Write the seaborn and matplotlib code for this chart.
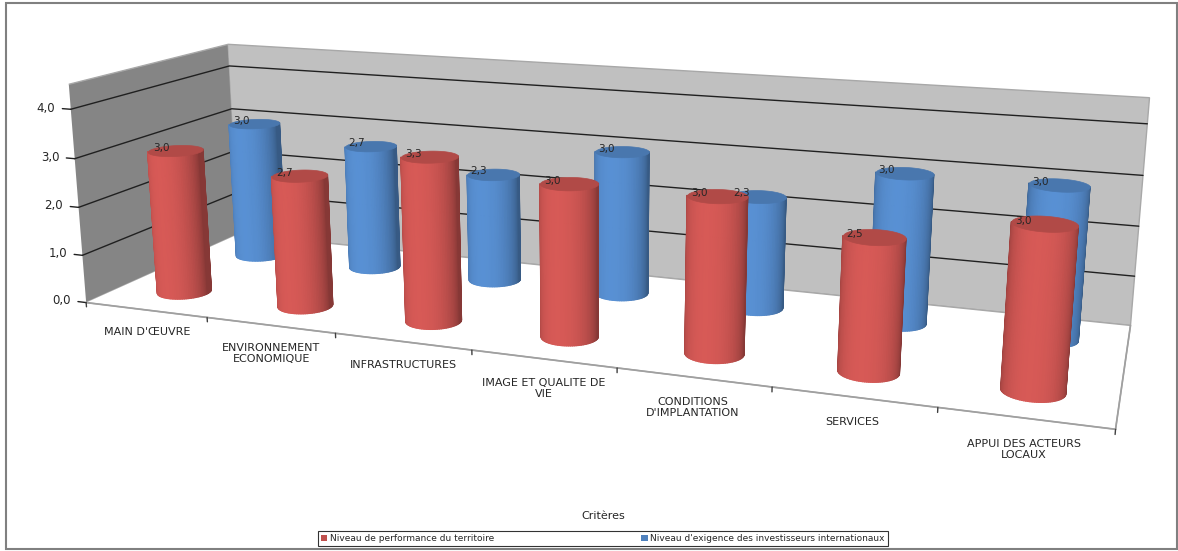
import numpy as np
import pandas as pd
import seaborn as sns
import matplotlib
matplotlib.use("Agg")
import matplotlib.pyplot as plt
from matplotlib.patches import Patch, Rectangle
from mpl_toolkits.mplot3d import proj3d
from mpl_toolkits.mplot3d.art3d import Poly3DCollection

# ---- data ----
criteres = ["MAIN D'ŒUVRE", "ENVIRONNEMENT\nECONOMIQUE", "INFRASTRUCTURES",
            "IMAGE ET QUALITE DE\nVIE", "CONDITIONS\nD'IMPLANTATION", "SERVICES",
            "APPUI DES ACTEURS\nLOCAUX"]
performance = [3.0, 2.7, 3.3, 3.0, 3.0, 2.5, 3.0]
exigence = [3.0, 2.7, 2.3, 3.0, 2.3, 3.0, 3.0]
series_names = ["Niveau de performance du territoire",
                "Niveau d'exigence des investisseurs internationaux"]
value_ticks = [0, 1, 2, 3, 4]
axis_title = "Critères"


def fr(v):
    return f"{v:.1f}".replace(".", ",")


sns.set_theme(style="white")
plt.rcParams["font.family"] = ["DejaVu Sans"]
palette = sns.color_palette(["#C0504D", "#4F81BD"])

df = pd.DataFrame({
    "critere": criteres * 2,
    "serie": [series_names[0]] * len(criteres) + [series_names[1]] * len(criteres),
    "valeur": performance + exigence,
})
df["xpos"] = list(range(len(criteres))) * 2
df["ypos"] = [0] * len(criteres) + [1] * len(criteres)

fig = plt.figure(figsize=(11.78, 5.51), dpi=100)
ax = fig.add_axes([0.001, 0.1775, 1.0, 0.88], projection="3d", computed_zorder=False)

AZIM, ELEV, FOCAL = -70, 14, 0.62
ax.view_init(elev=ELEV, azim=AZIM)
ax.set_proj_type("persp", focal_length=FOCAL)

XLIM = (-0.5, len(criteres) - 0.5)
YLIM = (-0.45, 1.45)
ZLIM = (0, 4.5)
ax.set_xlim(*XLIM)
ax.set_ylim(*YLIM)
ax.set_zlim(*ZLIM)
BOX = np.array([4.1, 1.17, 0.92])
ZOOM = 2.18
ax.set_box_aspect(tuple(BOX), zoom=ZOOM)

# walls and floor
ax.xaxis.set_pane_color("#858585")
ax.yaxis.set_pane_color("#C0C0C0")
ax.zaxis.set_pane_color("#FFFFFF")
for a in (ax.xaxis, ax.yaxis, ax.zaxis):
    a.pane.set_edgecolor("#A8A8A8")
    a.line.set_color("#A0A0A0")
ax.zaxis.line.set_color((0, 0, 0, 0))
ax.grid(False)
ax.set_xticks([])
ax.set_yticks([])
ax.set_zticks([])

# value gridlines on the left and back walls, with short ticks on the front edge
for z in value_ticks:
    if z > 0:
        ln, = ax.plot([XLIM[0], XLIM[0], XLIM[1]], [YLIM[0], YLIM[1], YLIM[1]], [z, z, z],
                      color="#202020", lw=1.0, zorder=1)
        ln.set_clip_on(False)
    tk, = ax.plot([XLIM[0] - 0.07, XLIM[0]], [YLIM[0], YLIM[0]], [z, z],
                  color="#202020", lw=1.0, zorder=1)
    tk.set_clip_on(False)

# category boundary ticks under the front edge
for b in np.arange(XLIM[0], XLIM[1] + 0.01, 1.0):
    tk, = ax.plot([b, b], [YLIM[0], YLIM[0]], [0, -0.09], color="#404040", lw=1.0, zorder=1)
    tk.set_clip_on(False)

# world-space geometry (same scaling as the axes box)
span = np.array([XLIM[1] - XLIM[0], YLIM[1] - YLIM[0], ZLIM[1] - ZLIM[0]])
box_world = BOX * 1.8294640721620434 * ZOOM / np.linalg.norm(BOX)
scale = box_world / span
a_r, e_r = np.radians(AZIM), np.radians(ELEV)
ps = np.array([np.cos(e_r) * np.cos(a_r), np.cos(e_r) * np.sin(a_r), np.sin(e_r)])
eye = 0.5 * box_world + 10 * FOCAL * ps

RX = 0.19
RW = RX * scale[0]
RY = RW / scale[1]

cam = ps[:2] / np.linalg.norm(ps[:2])
left = np.array([np.sin(a_r), -np.cos(a_r)])
light = cam + 0.4 * left
light /= np.linalg.norm(light)


def shade(rgb, s):
    return tuple(np.clip(np.array(rgb) * s, 0, 1))


def cylinder(xc, yc, h, rgb, n=96):
    th = np.linspace(0, 2 * np.pi, n + 1)
    xs = xc + RX * np.cos(th)
    ys = yc + RY * np.sin(th)
    polys, cols = [], []
    for k in range(n):
        m = 0.5 * (th[k] + th[k + 1])
        nrm = np.array([np.cos(m), np.sin(m)])
        pw = np.array([(0.5 * (xs[k] + xs[k + 1]) - XLIM[0]) * scale[0],
                       (0.5 * (ys[k] + ys[k + 1]) - YLIM[0]) * scale[1]])
        if np.dot(nrm, eye[:2] - pw) <= 0:
            continue
        polys.append([(xs[k], ys[k], 0), (xs[k + 1], ys[k + 1], 0),
                      (xs[k + 1], ys[k + 1], h), (xs[k], ys[k], h)])
        s = np.dot(nrm, light)
        cols.append(shade(rgb, 0.70 + 0.42 * max(s, 0) ** 0.8))
    side = Poly3DCollection(polys, facecolors=cols, edgecolors=cols, linewidths=1.0)
    topc = shade(rgb, 0.92)
    top = Poly3DCollection([list(zip(xs[:-1], ys[:-1], np.full(n, h)))],
                           facecolors=[topc], edgecolors=[topc], linewidths=0.5)
    for c in (side, top):
        c.set_clip_on(False)
    return side, top


for _, row in df.iterrows():
    rgb = palette[row.ypos]
    cw = np.array([(row.xpos - XLIM[0]) * scale[0], (row.ypos - YLIM[0]) * scale[1]])
    dist = np.linalg.norm(eye[:2] - cw)
    side, top = cylinder(row.xpos, row.ypos, row.valeur, rgb)
    side.set_zorder(20 - dist)
    top.set_zorder(20 - dist + 0.001)
    ax.add_collection3d(side)
    ax.add_collection3d(top)

# fix the layout, then place the texts at projected data positions
fig.canvas.draw()
M = ax.get_proj()


def label2d(x, y, z, s, **kw):
    xp, yp, _ = proj3d.proj_transform(x, y, z, M)
    return ax.text2D(xp, yp, s, transform=ax.transData, **kw)


for z in value_ticks:
    label2d(XLIM[0] - 0.13, YLIM[0], z, fr(z), ha="right", va="center", fontsize=8.5)

for i, lab in enumerate(criteres):
    label2d(i, YLIM[0], -0.37, lab, ha="center", va="top", fontsize=8,
            linespacing=1.15, zorder=50)

for _, row in df.iterrows():
    label2d(row.xpos - 0.12, row.ypos, row.valeur - 0.07, fr(row.valeur),
            ha="center", va="bottom", fontsize=7.5, zorder=100)

fig.text(603 / 1178, 1 - 516 / 551, axis_title, ha="center", va="center", fontsize=8)

handles = [Patch(facecolor=palette[i], edgecolor="none", label=series_names[i]) for i in range(2)]
leg = fig.legend(handles=handles, loc="lower left", ncol=2, mode="expand",
                 bbox_to_anchor=(318 / 1178, 1 - 546 / 551, 570 / 1178, 20 / 551),
                 fontsize=6.5, frameon=True, fancybox=False, handlelength=0.7,
                 handleheight=0.7, handletextpad=0.3, borderpad=0.35, borderaxespad=0)
leg.get_frame().set_edgecolor("black")
leg.get_frame().set_linewidth(0.8)

fig.patches.append(Rectangle((6 / 1178, 2 / 551), 1171 / 1178, 546 / 551,
                             transform=fig.transFigure, fill=False,
                             edgecolor="#808080", lw=1.5))

fig.savefig("out.png", dpi=100)
